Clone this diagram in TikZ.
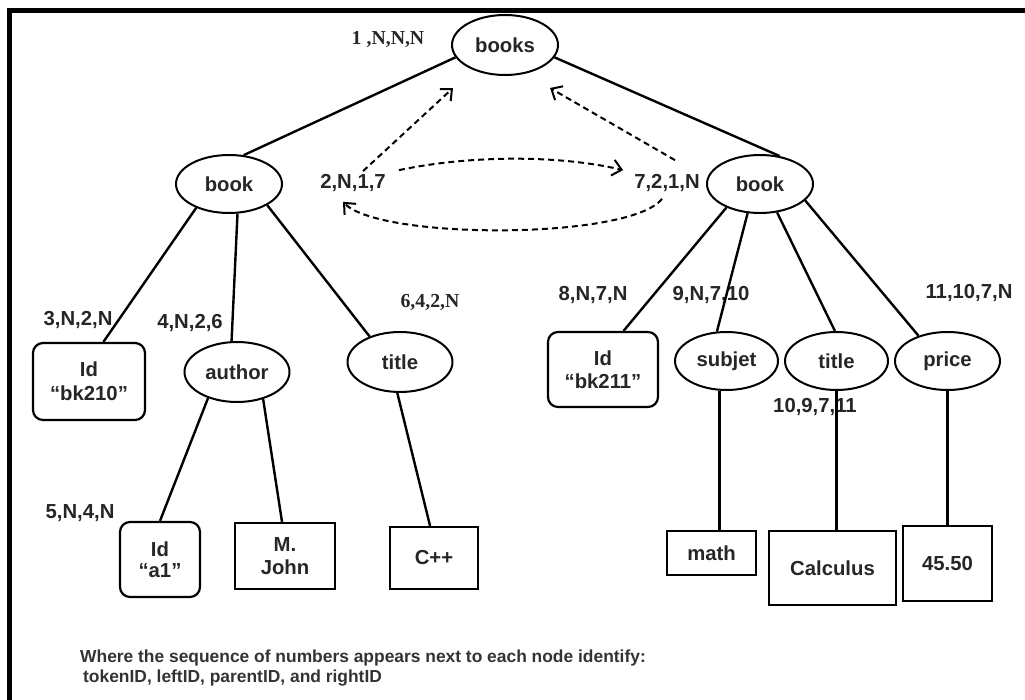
\documentclass[tikz,border=0pt]{standalone}
\usepackage{fontspec}
\setmainfont{Liberation Sans}
\newfontfamily\tms{Liberation Serif}
\usetikzlibrary{shapes.geometric,arrows.meta,calc}
\begin{document}
\begin{tikzpicture}[x=1pt,y=-1pt,
 every node/.style={font=\fontsize{20.3}{23}\selectfont\bfseries, text=black!85},
 ell/.style={draw=black, ellipse, line width=2pt, inner sep=0pt},
 rbox/.style={draw=black, rectangle, rounded corners=10pt, line width=2.2pt, align=center, inner sep=0pt},
 sbox/.style={draw=black, rectangle, line width=2.2pt, align=center, inner sep=0pt},
 lab/.style={inner sep=0pt},
 slab/.style={inner sep=0pt, font=\tms\fontsize{19.8}{22}\selectfont\bfseries},
 treeline/.style={line width=2.4pt},
 dsh/.style={line width=2pt, dash pattern=on 6pt off 4pt, -{Straight Barb[length=9pt,width=16pt,line width=2pt]}},
 foot/.style={anchor=west, inner sep=0pt, font=\fontsize{17.4}{20}\selectfont\bfseries, text=black!80}
]
\useasboundingbox (0,0) rectangle (1025,700);
\draw[line width=5pt] (9.5,700) -- (9.5,10.5) -- (1025,10.5);

% ellipses
\node[ell, minimum width=106pt, minimum height=60pt] (books) at (505,45) {books};
\node[ell, minimum width=106pt, minimum height=58pt] (lbook) at (229,184) {book};
\node[ell, minimum width=106pt, minimum height=58pt] (rbook) at (760,184) {book};
\node[ell, minimum width=105pt, minimum height=60pt] (author) at (237,372) {author};
\node[ell, minimum width=105pt, minimum height=60pt] (titlea) at (400,362) {title};
\node[ell, minimum width=103pt, minimum height=58pt] (subjet) at (726.5,361) {subjet};
\node[ell, minimum width=103pt, minimum height=58pt] (titleb) at (836.5,361) {title};
\node[ell, minimum width=105pt, minimum height=58pt] (price) at (947.5,361) {price};

% boxes
\node[rbox, minimum width=112pt, minimum height=77pt] (ida) at (89,381.5) {Id\\[1pt]“bk210”};
\node[rbox, minimum width=80pt, minimum height=75pt] (idb) at (160,559.5) {Id\\[-2pt]“a1”};
\node[sbox, minimum width=100pt, minimum height=66pt] (john) at (285,556) {M.\\John};
\node[sbox, minimum width=88pt, minimum height=62pt] (cpp) at (434,558) {C++};
\node[rbox, minimum width=110pt, minimum height=75pt] (idc) at (603,369.5) {Id\\“bk211”};
\node[sbox, minimum width=89pt, minimum height=44pt] (math) at (711.5,553) {math};
\node[sbox, minimum width=127pt, minimum height=74pt] (calc) at (832.5,568) {Calculus};
\node[sbox, minimum width=89pt, minimum height=75pt] (pval) at (947.5,563.5) {45.50};

% labels
\node[slab] (l1) at (388,40) {1 ,N,N,N};
\node[lab] (l2) at (353,183) {2,N,1,7};
\node[lab] (l7) at (667,183) {7,2,1,N};
\node[lab] (l3) at (78,320) {3,N,2,N};
\node[lab] (l4) at (190,323) {4,N,2,6};
\node[slab] (l6) at (430,302) {6,4,2,N};
\node[lab] (l5) at (80,513) {5,N,4,N};
\node[lab] (l8) at (593,295) {8,N,7,N};
\node[lab] (l9) at (711,295) {9,N,7,10};
\node[lab] (l11) at (969,293) {11,10,7,N};
\node[lab] (l10) at (815,407) {10,9,7,11};

% tree lines
\draw[treeline] (books.194) -- (lbook.63);
\draw[treeline] (books.-14) -- (rbook.55);
\draw[treeline] (lbook.216) -- (ida.70);
\draw[treeline] (lbook.-74) -- (author.100);
\draw[treeline] (lbook.-29) -- (titlea.140);
\draw[treeline] (author.222) -- (idb.north);
\draw[treeline] (author.-46) -- (john.95);
\draw[treeline] (titlea.-95) -- (cpp.97);
\draw[treeline] (rbook.215.5) -- (idc.62);
\draw[treeline] (rbook.247) -- (subjet.108);
\draw[treeline] (rbook.-59) -- (titleb.93);
\draw[treeline] (rbook.-20) -- (price.139);
\draw[treeline] ([xshift=8pt]math.north |- subjet.south) -- ([xshift=8pt]math.north);
\draw[treeline] (titleb.south) -- (titleb.south |- calc.north);
\draw[treeline] (price.south) -- (pval.north);

% dashed arrows
\coordinate (ta) at (453,88);
\coordinate (tb) at (550,88);
\draw[dsh] ([xshift=10pt,yshift=3pt]l2.north) -- (ta);
\draw[dsh] ([xshift=8pt,yshift=14pt]l7.north) -- (tb);
\draw[dsh] ([xshift=13pt,yshift=4pt]l2.north east) .. controls (470,155) and (560,155) .. ([xshift=-11pt,yshift=4pt]l7.north west);
\draw[dsh] ([xshift=-5pt,yshift=-7pt]l7.south) .. controls (630,240) and (380,240) .. ([xshift=-10pt,yshift=-10pt]l2.south);

% footer
\node[foot] (f1) at (80,658) {Where the sequence of numbers appears next to each node identify:};
\node[foot] (f2) at (83,678) {tokenID, leftID, parentID, and rightID};
\end{tikzpicture}
\end{document}
